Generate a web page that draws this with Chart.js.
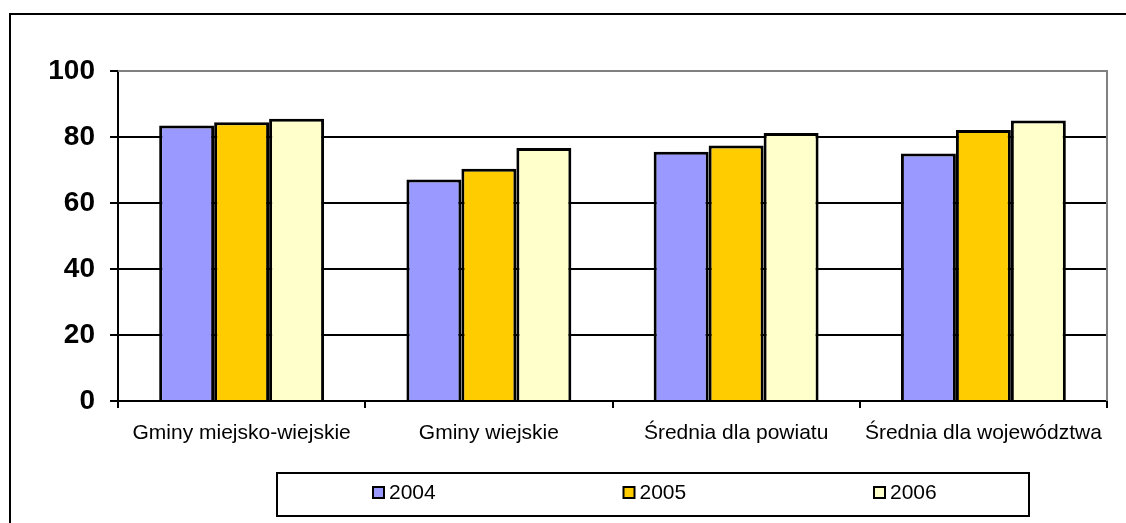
<!DOCTYPE html>
<html>
<head>
<meta charset="utf-8">
<script src="https://cdn.jsdelivr.net/npm/chart.js@4"></script>
<style>
  html, body { margin: 0; padding: 0; background: #fff; }
  #wrap { width: 1126px; height: 523px; position: relative; }
</style>
</head>
<body>
<div id="wrap"><canvas id="chart"></canvas></div>
<script>
const categories = ['Gminy miejsko-wiejskie', 'Gminy wiejskie', 'Średnia dla powiatu', 'Średnia dla województwa'];
const years = ['2004', '2005', '2006'];
const values2004 = [83.5, 67.1, 75.5, 75.0];
const values2005 = [84.5, 70.4, 77.4, 82.1];
const values2006 = [85.5, 76.7, 81.2, 85.0];
const colors = ['#9999FF', '#FFCC00', '#FFFFCC'];

// frame, plot border and the boxed legend
const framePlugin = {
  id: 'frame',
  beforeDatasetsDraw(chart) {
    const ctx = chart.ctx, a = chart.chartArea;
    ctx.save();
    ctx.strokeStyle = '#808080';
    ctx.lineWidth = 2;
    ctx.beginPath();
    ctx.moveTo(a.left, a.top);
    ctx.lineTo(a.right, a.top);
    ctx.lineTo(a.right, a.bottom);
    ctx.stroke();
    ctx.restore();
  },
  afterDraw(chart) {
    const ctx = chart.ctx;
    ctx.save();
    ctx.strokeStyle = '#000';
    ctx.lineWidth = 2;
    ctx.beginPath();
    ctx.moveTo(10, 600);
    ctx.lineTo(10, 14);
    ctx.lineTo(1200, 14);
    ctx.stroke();

    ctx.strokeRect(277, 473, 752, 43);
    ctx.font = '21px Arial, "Liberation Sans", sans-serif';
    ctx.textBaseline = 'middle';
    chart.data.datasets.forEach((ds, i) => {
      const x = 373 + i * 250.5;
      ctx.fillStyle = ds.backgroundColor;
      ctx.fillRect(x, 487, 11, 11);
      ctx.lineWidth = 2;
      ctx.strokeRect(x, 487, 11, 11);
      ctx.fillStyle = '#000';
      ctx.fillText(ds.label, x + 16, 493);
    });
    ctx.restore();
  }
};

new Chart(document.getElementById('chart'), {
  type: 'bar',
  data: {
    labels: categories,
    datasets: [
      { label: years[0], data: values2004, backgroundColor: colors[0] },
      { label: years[1], data: values2005, backgroundColor: colors[1] },
      { label: years[2], data: values2006, backgroundColor: colors[2] }
    ]
  },
  options: {
    responsive: true,
    maintainAspectRatio: false,
    animation: false,
    layout: { padding: { top: 71, right: 19, left: 0, bottom: 0 } },
    datasets: {
      bar: {
        borderColor: '#000',
        borderWidth: 3,
        categoryPercentage: 0.667,
        barPercentage: 1
      }
    },
    plugins: {
      legend: { display: false },
      tooltip: { enabled: false }
    },
    scales: {
      x: {
        afterFit: (scale) => { scale.height = 122; },
        grid: {
          offset: true,
          drawOnChartArea: false,
          drawTicks: true,
          tickLength: 7,
          tickColor: '#000',
          lineWidth: 2
        },
        border: { color: '#000', width: 2 },
        ticks: {
          color: '#000',
          padding: 13,
          font: { family: 'Arial, "Liberation Sans", sans-serif', size: 21 }
        }
      },
      y: {
        min: 0,
        max: 100,
        afterFit: (scale) => { scale.width = 118; },
        grid: {
          color: (c) => c.tick && c.tick.value === 100 ? 'rgba(0,0,0,0)' : '#000',
          lineWidth: 2,
          tickLength: 8,
          tickColor: '#000'
        },
        border: { color: '#000', width: 2 },
        ticks: {
          stepSize: 20,
          color: '#000',
          padding: 15,
          font: { family: 'Arial, "Liberation Sans", sans-serif', size: 28, weight: 'bold' }
        }
      }
    }
  },
  plugins: [framePlugin]
});
</script>
</body>
</html>
